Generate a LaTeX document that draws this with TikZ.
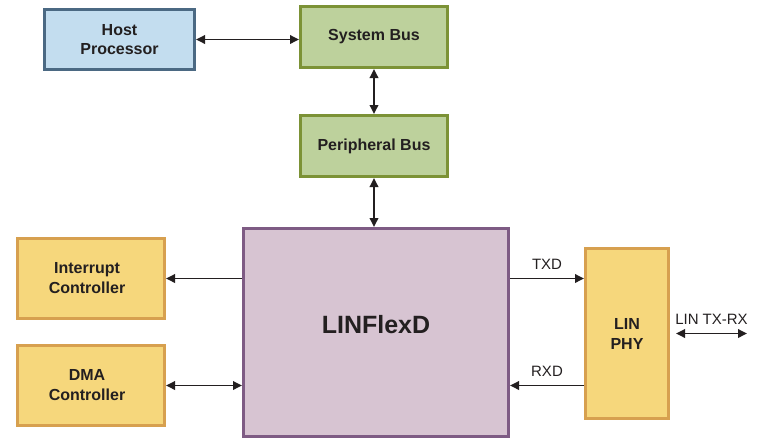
\documentclass[tikz,border=0pt]{standalone}
\usepackage{fontspec}
\setmainfont{Liberation Sans}
\usetikzlibrary{arrows.meta}
\definecolor{bluefill}{HTML}{C3DDEF}
\definecolor{blueline}{HTML}{4B6983}
\definecolor{greenfill}{HTML}{BDD19C}
\definecolor{greenline}{HTML}{7C9236}
\definecolor{purfill}{HTML}{D7C4D2}
\definecolor{purline}{HTML}{7E5B84}
\definecolor{yelfill}{HTML}{F6D77C}
\definecolor{yelline}{HTML}{D7A04F}
\definecolor{ink}{HTML}{231F20}
\tikzset{
  box/.style={rectangle, line width=3pt, align=center, inner sep=0pt, text=ink},
  hostbox/.style={box, draw=blueline, fill=bluefill, font=\fontsize{16}{19}\selectfont\bfseries},
  busbox/.style={box, draw=greenline, fill=greenfill, font=\fontsize{16}{19}\selectfont\bfseries},
  corebox/.style={box, draw=purline, fill=purfill, font=\fontsize{25}{28}\selectfont\bfseries},
  ctlbox/.style={box, draw=yelline, fill=yelfill, font=\fontsize{16}{20}\selectfont\bfseries},
  sig/.style={font=\fontsize{15}{17}\selectfont, text=ink, inner sep=0pt},
  conn/.style={draw=ink, line width=1.8pt},
  onearrow/.style={conn, -{Triangle[length=9pt,width=8.5pt]}},
  twoarrow/.style={conn, {Triangle[length=9pt,width=8.5pt]}-{Triangle[length=9pt,width=8.5pt]}},
}
\begin{document}
\begin{tikzpicture}[x=1pt,y=-1pt]
\useasboundingbox (0,0) rectangle (772,440);
\node[hostbox, minimum width=150pt, minimum height=60pt] (host) at (119.5,39.5) {Host\\Processor};
\node[busbox, minimum width=147pt, minimum height=61pt] (sys) at (374,37) {System Bus};
\node[busbox, minimum width=147pt, minimum height=61pt] (per) at (374,146) {Peripheral Bus};
\node[corebox, minimum width=265pt, minimum height=208pt] (lin) at (376,332.5) {\raisebox{16pt}{LINFlexD}};
\node[ctlbox, minimum width=147pt, minimum height=80pt] (intr) at (91,278.5) {\hspace*{-8pt}Interrupt\\\hspace*{-8pt}Controller};
\node[ctlbox, minimum width=147pt, minimum height=80pt] (dma) at (91,385.5) {\hspace*{-8pt}DMA\\\hspace*{-8pt}Controller};
\node[ctlbox, minimum width=83pt, minimum height=170pt] (phy) at (627,333.5) {LIN\\PHY};
\coordinate (ext) at (747,333.5);

\draw[twoarrow] (host.east) -- (host.east -| sys.west);
\draw[twoarrow] (sys.south) -- (per.north);
\draw[twoarrow] (per.south) -- (per.south |- lin.north);
\draw[onearrow] (intr.east -| lin.west) -- (intr.east);
\draw[twoarrow] (dma.east) -- (dma.east -| lin.west);
\draw[onearrow] (intr.east -| lin.east) -- node[sig, above=8pt] (txd) {TXD} (intr.east -| phy.west);
\draw[onearrow] (dma.east -| phy.west) -- node[sig, above=8pt] (rxd) {RXD} (dma.east -| lin.east);
\draw[twoarrow] ([xshift=6pt]phy.east) -- node[sig, above=8pt] (lintxrx) {LIN TX-RX} (ext);
\end{tikzpicture}
\end{document}
